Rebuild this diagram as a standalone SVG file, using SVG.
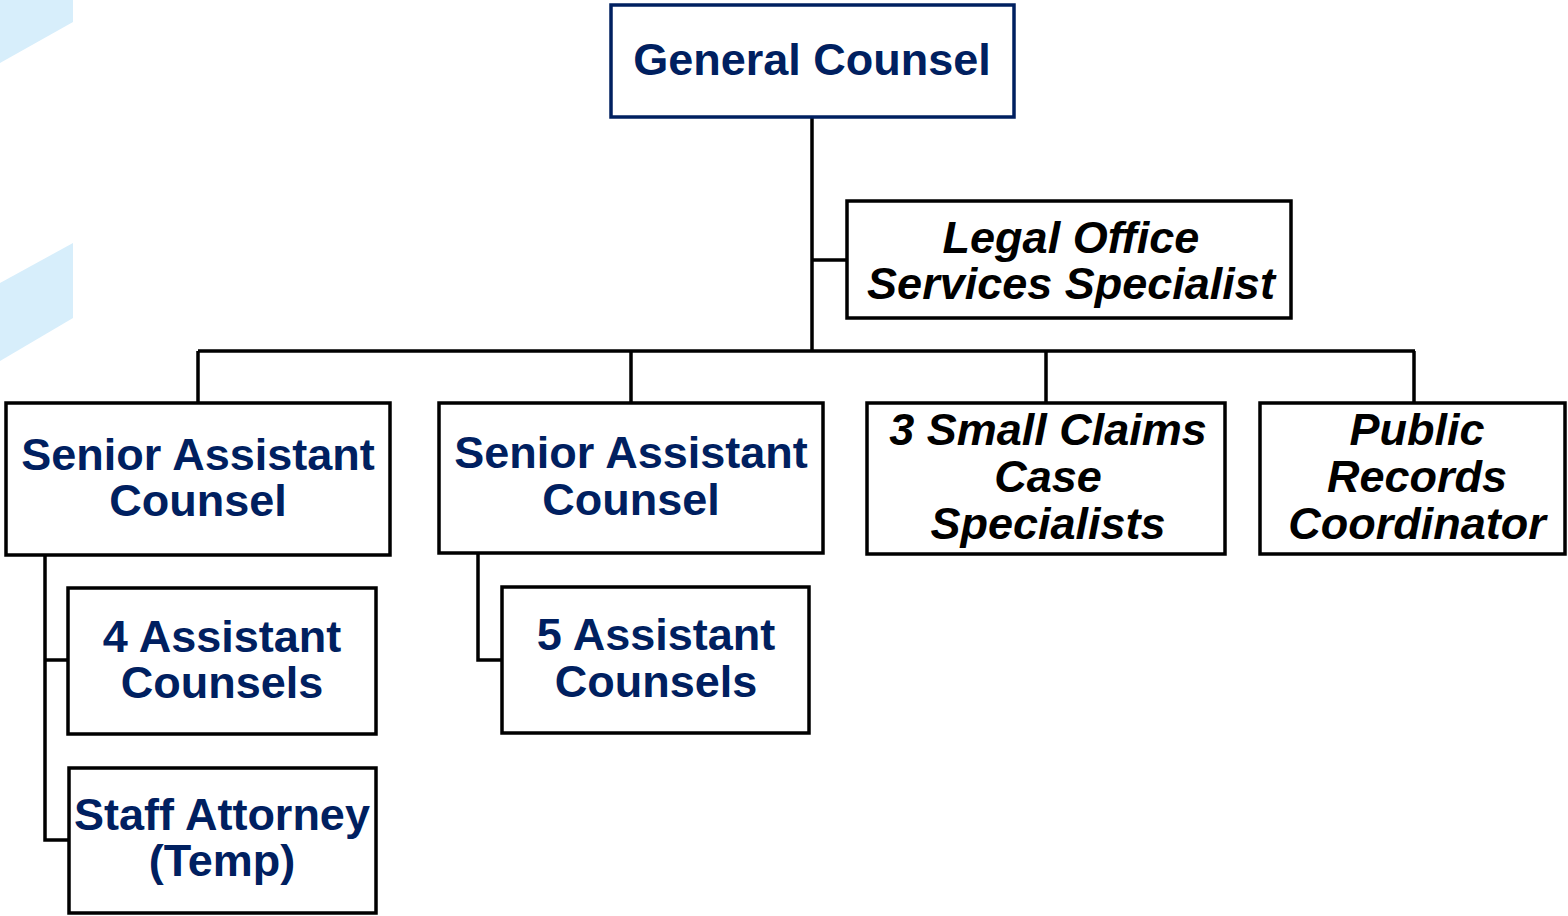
<svg xmlns="http://www.w3.org/2000/svg" width="1568" height="916" viewBox="0 0 1568 916">
<style>
.box{fill:#fff;stroke:#000;stroke-width:3.5}
.gc{fill:#fff;stroke:#002060;stroke-width:3.5}
.t{font-family:"Liberation Sans",Arial,sans-serif;font-weight:bold;font-size:45px;text-anchor:middle}
.n{fill:#002060}
.i{fill:#000;font-style:italic}
.c{fill:none;stroke:#000;stroke-width:3.5}
</style>
<rect width="1568" height="916" fill="#fff"/>
<polygon points="0,0 73,0 73,22 0,63" fill="#d7eefb"/>
<polygon points="0,283 73,243 73,318 0,361" fill="#d7eefb"/>
<g id="connectors">
<path class="c" d="M812,118 V351 M812,260 H846 M198,351 H1415 M198,351 V403 M631,351 V403 M1046,351 V403 M1414,351 V403 M45,556 V840 H69 M45,660 H68 M478,553 V660 H502"/>
</g>
<g id="general-counsel"><rect class="gc" x="611" y="5" width="403" height="112"/><text class="t n" x="812" y="75">General Counsel</text></g>
<g id="legal-office"><rect class="box" x="847" y="201" width="444" height="117"/><text class="t i" x="1071" y="253">Legal Office</text><text class="t i" x="1071" y="299">Services Specialist</text></g>
<g id="sac1"><rect class="box" x="6" y="403" width="384" height="152"/><text class="t n" x="198" y="470">Senior Assistant</text><text class="t n" x="198" y="516">Counsel</text></g>
<g id="sac2"><rect class="box" x="439" y="403" width="384" height="150"/><text class="t n" x="631" y="468">Senior Assistant</text><text class="t n" x="631" y="515">Counsel</text></g>
<g id="small-claims"><rect class="box" x="867" y="403" width="358" height="151"/><text class="t i" x="1048" y="445">3 Small Claims</text><text class="t i" x="1048" y="492">Case</text><text class="t i" x="1048" y="539">Specialists</text></g>
<g id="public-records"><rect class="box" x="1260" y="403" width="305" height="151"/><text class="t i" x="1417" y="445">Public</text><text class="t i" x="1417" y="492">Records</text><text class="t i" x="1417" y="539">Coordinator</text></g>
<g id="four-ac"><rect class="box" x="68" y="588" width="308" height="146"/><text class="t n" x="222" y="652">4 Assistant</text><text class="t n" x="222" y="698">Counsels</text></g>
<g id="staff-attorney"><rect class="box" x="69" y="768" width="307" height="145"/><text class="t n" x="222" y="830">Staff Attorney</text><text class="t n" x="222" y="876">(Temp)</text></g>
<g id="five-ac"><rect class="box" x="502" y="587" width="307" height="146"/><text class="t n" x="656" y="650">5 Assistant</text><text class="t n" x="656" y="697">Counsels</text></g>
</svg>
